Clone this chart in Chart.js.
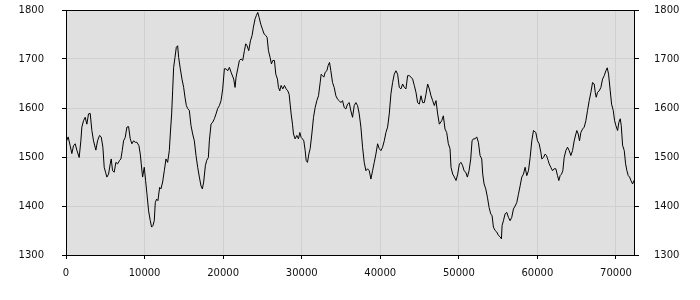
<!DOCTYPE html>
<html><head><meta charset="utf-8">
<script src="https://cdn.jsdelivr.net/npm/chart.js@4.4.1/dist/chart.umd.min.js"></script>
<style>html,body{margin:0;padding:0;background:#fff}#wrap{width:700px;height:300px;position:relative}</style>
</head><body><div id="wrap"><canvas id="c"></canvas></div>
<script>
const xTicks = [0, 10000, 20000, 30000, 40000, 50000, 60000, 70000];
const yTicks = [1300, 1400, 1500, 1600, 1700, 1800];
const xMin = 0, xMax = 72420, yMin = 1300, yMax = 1800;

const xs = [
0,276,531,743,955,1168,1380,1678,1890,2017,2230,2442,2655,2867,3079,3292,3504,3802,4014,4269,
4481,4694,4864,5033,5203,5416,5628,5756,5926,6138,6350,6563,6818,6988,7157,7327,7540,7752,7965,8177,
8389,8602,8814,9027,9282,9451,9579,9749,9961,10131,10301,10513,10726,10896,11066,11236,11363,11533,11703,11915,
12087,12299,12512,12724,12936,13149,13276,13446,13574,13701,13871,14041,14211,14338,14551,14763,14975,15145,15315,15485,
15698,15910,16122,16335,16547,16760,16972,17184,17354,17524,17737,17907,18119,18246,18459,18671,18884,19096,19308,19521,
19733,19946,20158,20370,20583,20795,21008,21347,21517,21645,21857,22070,22282,22494,22707,22877,23047,23259,23471,23684,
23854,24067,24237,24407,24577,24789,25001,25214,25426,25596,25766,25978,26148,26318,26531,26701,26913,27040,27210,27380,
27593,27805,28017,28230,28400,28527,28655,28825,28952,29164,29377,29589,29759,29929,30099,30269,30439,30566,30736,30906,
31076,31288,31501,31713,31926,32138,32350,32478,32648,32818,32988,33200,33370,33540,33710,33922,34135,34347,34559,34772,
34984,35197,35409,35621,
35834,36047,36259,36472,36684,36896,37109,37321,37534,37746,37958,38171,38383,38596,38808,39020,39233,39445,39658,39870,
40082,40295,40507,40720,40932,41144,41357,41569,41782,41994,42206,42419,42631,42844,43056,43268,43481,43693,43906,44118,
44330,44543,44755,44968,45180,45392,45605,45817,46030,46242,46454,46667,46879,47092,47304,47516,
47815,48028,48240,48453,48665,48877,49005,49217,49430,49642,49854,50067,50279,50492,50662,50874,51086,51299,51511,51681,
51851,52063,52276,52488,52701,52913,53040,53210,53423,53635,53848,54060,54230,54400,54612,54825,55037,55249,55419,55504,
55674,55887,56099,56311,56524,56736,56949,57161,57373,57586,57798,58011,58223,58435,58648,58860,59073,59285,59497,
59795,60008,60220,60433,60560,60772,60985,61155,61367,61495,61707,61919,62132,62344,62557,62727,62896,63066,63236,63406,
63619,63831,64043,64256,64468,64681,64893,65020,65190,65360,65530,65743,65955,66167,66380,66592,66805,67017,67229,67357,
67484,67654,67867,68079,68291,68504,68716,68886,69056,69268,69438,69651,69821,69991,70203,70373,70543,70670,70840,71053,
71223,71392,71562,71732,71902,72115,72285,72420
];
const ys = [
1530,1541,1523,1507,1523,1527,1514,1499,1533,1561,1574,1581,1567,1588,1589,1554,1533,1514,1533,1544,
1541,1520,1479,1469,1459,1465,1486,1496,1472,1469,1489,1486,1493,1496,1513,1533,1540,1561,1562,1537,
1527,1533,1530,1530,1523,1506,1486,1459,1479,1452,1425,1390,1370,1357,1360,1370,1407,1414,1411,1438,
1435,1449,1472,1496,1489,1513,1547,1588,1635,1683,1703,1724,1727,1703,1680,1659,1642,1622,1605,1599,
1595,1564,1547,1533,1503,1479,1459,1441,1435,1449,1482,1493,1499,1533,1567,1571,1578,1588,1599,1605,
1615,1639,1680,1680,1676,1683,1673,1659,1642,1663,1680,1697,1700,1697,1717,1731,1727,1717,1737,1748,
1765,1782,1789,1795,1785,1771,1761,1751,1748,1744,1717,1703,1690,1697,1697,1669,1659,1642,1635,1646,
1639,1646,1639,1635,1628,1608,1588,1567,1547,1537,1544,1537,1550,1540,1537,1533,1513,1493,1489,1506,
1517,1547,1581,1601,1615,1625,1652,1669,1666,1663,1673,1676,1687,1693,1676,1652,1642,1625,1618,1615,
1611,1615,1601,1598,
1608,1611,1594,1581,1605,1611,1605,1588,1561,1520,1489,1472,1476,1472,1455,1472,1489,1506,1527,1517,
1513,1520,1533,1550,1561,1588,1629,1652,1669,1676,1669,1642,1639,1649,1642,1639,1666,1666,1663,1659,
1646,1632,1611,1608,1625,1611,1611,1628,1649,1639,1625,1615,1605,1615,1588,1567,
1574,1584,1557,1550,1527,1517,1479,1465,1459,1452,1465,1486,1489,1482,1472,1469,1459,1472,1496,1533,
1537,1537,1541,1530,1503,1496,1465,1445,1435,1418,1397,1384,1380,1357,1350,1347,1340,1337,1333,1360,
1370,1384,1387,1377,1370,1377,1394,1400,1407,1424,1441,1459,1465,1479,1462,1472,1499,1533,1554,
1550,1533,1527,1510,1496,1499,1506,1503,1493,1486,1479,1472,1476,1476,1462,1452,1462,1465,1472,1499,
1513,1520,1513,1503,1513,1533,1547,1554,1547,1533,1550,1557,1561,1574,1595,1615,1632,1652,1649,1632,
1622,1632,1635,1642,1659,1666,1676,1682,1669,1635,1608,1595,1574,1564,1554,1571,1578,1564,1524,1513,
1486,1472,1462,1459,1452,1445,1452,1450
];

const n = Math.min(xs.length, ys.length);
const points = [];
for (let i = 0; i < n; i++) points.push({x: xs[i], y: ys[i]});

const FONT = {family: '"DejaVu Sans", Verdana, sans-serif', size: 10};
const plotBg = {
  id: 'plotBg',
  beforeDraw(chart) {
    const {ctx, chartArea: a} = chart;
    ctx.save();
    ctx.fillStyle = '#e0e0e0';
    ctx.fillRect(a.left, a.top, a.right - a.left, a.bottom - a.top);
    ctx.restore();
  },
  afterDraw(chart) {
    const {ctx, chartArea: a} = chart;
    ctx.save();
    ctx.strokeStyle = '#000';
    ctx.lineWidth = 1;
    const l = Math.round(a.left) + 0.5, t = Math.round(a.top) + 0.5;
    const r = Math.round(a.right) - 0.5, b = Math.round(a.bottom) + 0.5;
    ctx.strokeRect(l, t, r - l, b - t);
    ctx.restore();
  }
};
const noPad = s => { s.paddingTop = 0; s.paddingBottom = 0; s.paddingLeft = 0; s.paddingRight = 0; };

new Chart(document.getElementById('c'), {
  type: 'line',
  data: {datasets: [{
    data: points, borderColor: '#000', borderWidth: 1, pointRadius: 0,
    tension: 0, fill: false, yAxisID: 'y'
  }]},
  options: {
    responsive: true, maintainAspectRatio: false, animation: false,
    layout: {padding: {top: 10, left: 0, right: 0, bottom: 0}},
    plugins: {legend: {display: false}, tooltip: {enabled: false}},
    scales: {
      x: {
        type: 'linear', min: xMin, max: xMax,
        afterBuildTicks: s => { s.ticks = xTicks.map(v => ({value: v})); },
        afterFit: s => { s.height = 45; noPad(s); },
        grid: {color: '#d0d0d0', tickColor: '#000', tickLength: 4, lineWidth: 1},
        border: {display: false},
        ticks: {font: FONT, color: '#111', padding: 8, maxRotation: 0, autoSkip: false,
                callback: v => String(v)}
      },
      y: {
        type: 'linear', position: 'left', min: yMin, max: yMax,
        afterBuildTicks: s => { s.ticks = yTicks.map(v => ({value: v})); },
        afterFit: s => { s.width = 66; noPad(s); },
        grid: {color: '#d0d0d0', tickColor: '#000', tickLength: 4, lineWidth: 1},
        border: {display: false},
        ticks: {font: FONT, color: '#111', padding: 18, callback: v => String(v)}
      },
      y2: {
        type: 'linear', position: 'right', min: yMin, max: yMax,
        afterBuildTicks: s => { s.ticks = yTicks.map(v => ({value: v})); },
        afterFit: s => { s.width = 65; noPad(s); },
        grid: {drawOnChartArea: false, tickColor: '#000', tickLength: 4},
        border: {display: false},
        ticks: {font: FONT, color: '#111', padding: 15, callback: v => String(v)}
      }
    }
  },
  plugins: [plotBg]
});
</script></body></html>
